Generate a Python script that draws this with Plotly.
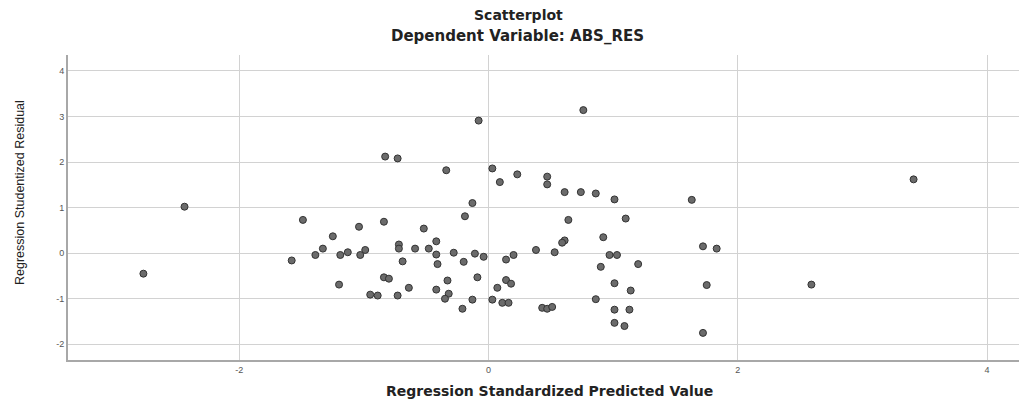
import plotly.graph_objects as go

# Regression Standardized Predicted Value
pred = [-2.77, -2.44, -1.49, -1.58, -1.39, -1.33, -1.25, -1.19, -1.13, -1.20,
        -1.04, -1.03, -0.99, -0.84, -0.72, -0.72, -0.69, -0.59, -0.52, -0.48,
        -0.42, -0.42, -0.41, -0.28, -0.84, -0.80, -0.33, -0.64, -0.95, -0.89,
        -0.73, -0.42, -0.32, -0.35, -0.21, -0.13, -0.19, 0.61, 0.74, 0.86,
        1.01, 0.64, 1.10, 0.61, 0.59, 0.92, -0.11, -0.04, -0.20, 0.14,
        0.20, 0.38, 0.53, 0.97, 1.03, 0.90, 1.20, -0.09, 0.14, 0.18,
        0.07, 1.01, 1.14, -0.13, 0.03, 0.11, 0.16, 0.43, 0.47, 0.51,
        0.86, 1.01, 1.13, 1.01, 1.09, 0.76, -0.08, -0.83, -0.73, -0.34,
        0.03, 0.09, 0.23, 0.47, 0.47, 1.63, 1.72, 1.83, 1.75, 1.72,
        2.59, 3.41]

# Regression Studentized Residual
resid = [-0.45, 1.02, 0.73, -0.16, -0.04, 0.10, 0.37, -0.04, 0.02, -0.69,
         0.58, -0.04, 0.07, 0.69, 0.19, 0.10, -0.18, 0.10, 0.54, 0.10,
         0.26, -0.03, -0.24, 0.01, -0.53, -0.56, -0.60, -0.76, -0.91, -0.93,
         -0.93, -0.80, -0.89, -1.00, -1.22, 1.10, 0.81, 1.34, 1.34, 1.31,
         1.18, 0.73, 0.76, 0.28, 0.23, 0.35, -0.01, -0.08, -0.19, -0.14,
         -0.04, 0.07, 0.02, -0.04, -0.04, -0.30, -0.24, -0.53, -0.59, -0.67,
         -0.76, -0.66, -0.82, -1.02, -1.02, -1.09, -1.09, -1.20, -1.22, -1.18,
         -1.01, -1.24, -1.24, -1.53, -1.60, 3.14, 2.91, 2.12, 2.08, 1.82,
         1.86, 1.56, 1.73, 1.68, 1.51, 1.17, 0.15, 0.10, -0.70, -1.75,
         -0.69, 1.62]

x_ticks = [-2, 0, 2, 4]
y_ticks = [-2, -1, 0, 1, 2, 3, 4]

title = "Scatterplot"
subtitle = "Dependent Variable: ABS_RES"
x_title = "Regression Standardized Predicted Value"
y_title = "Regression Studentized Residual"

# The page body has an 8px margin, so the figure is drawn slightly smaller.
FIG_W, FIG_H = 1019, 392
PL, PR, PT, PB = 60, 1019, 47, 352  # plot area in figure pixels
OFF = 8

def px_x(page_x):
    return (page_x - OFF - PL) / (PR - PL)

def px_y(page_y):
    return (PB - (page_y - OFF)) / (PB - PT)

fig = go.Figure()
fig.add_trace(go.Scatter(
    x=pred, y=resid, mode="markers",
    marker=dict(size=7, color="#6b6b6b", line=dict(color="#333333", width=1)),
    showlegend=False, hoverinfo="x+y",
))

title_font = "DejaVu Sans, Verdana, sans-serif"
axis_font = "Liberation Sans, Arial, sans-serif"

fig.update_layout(
    width=FIG_W, height=FIG_H,
    margin=dict(l=PL, r=FIG_W - PR, t=PT, b=FIG_H - PB, pad=0),
    paper_bgcolor="white", plot_bgcolor="white",
    font=dict(family=axis_font, color="#222"),
    xaxis=dict(
        range=[-3.375, 4.32], tickvals=x_ticks, ticktext=[str(v) for v in x_ticks],
        showgrid=True, gridcolor="#d2d2d2", gridwidth=1,
        zeroline=False, showline=True, linecolor="#a8a8a8", linewidth=2,
        ticks="", tickfont=dict(size=9, color="#555"),
    ),
    yaxis=dict(
        range=[-2.345, 4.35], tickvals=y_ticks, ticktext=[str(v) for v in y_ticks],
        showgrid=True, gridcolor="#d2d2d2", gridwidth=1,
        zeroline=False, showline=True, linecolor="#a8a8a8", linewidth=2,
        ticks="", tickfont=dict(size=9, color="#555"),
    ),
    annotations=[
        dict(text="<b>" + title + "</b>", x=px_x(518), y=px_y(15),
             xref="paper", yref="paper", showarrow=False,
             font=dict(family=title_font, size=14, color="#222"),
             xanchor="center", yanchor="middle"),
        dict(text="<b>" + subtitle + "</b>", x=px_x(517), y=px_y(36),
             xref="paper", yref="paper", showarrow=False,
             font=dict(family=title_font, size=15, color="#222"),
             xanchor="center", yanchor="middle"),
        dict(text="<b>" + x_title + "</b>", x=px_x(549), y=px_y(391),
             xref="paper", yref="paper", showarrow=False,
             font=dict(family=title_font, size=14, color="#222"),
             xanchor="center", yanchor="middle"),
        dict(text=y_title, x=px_x(20), y=px_y(193),
             xref="paper", yref="paper", showarrow=False, textangle=-90,
             font=dict(family=axis_font, size=12.5, color="#222"),
             xanchor="center", yanchor="middle"),
    ],
)

fig.write_html("out.html")
